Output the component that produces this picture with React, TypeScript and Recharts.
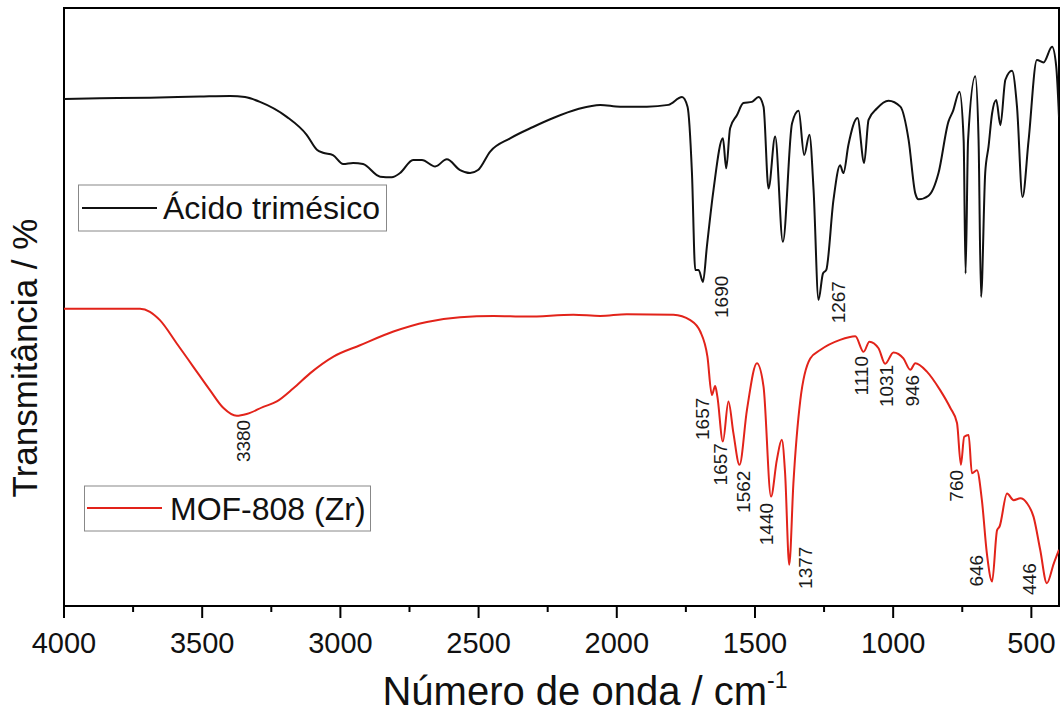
import { ComposedChart, Line, XAxis, YAxis, ReferenceArea, ReferenceDot } from "recharts";

const FONT = "'Liberation Sans', Arial, Helvetica, sans-serif";

const xMajorTicks = [4000, 3500, 3000, 2500, 2000, 1500, 1000, 500];
const xMinorTicks = [3750, 3250, 2750, 2250, 1750, 1250, 750];

// Ácido trimésico (black)
const acidWn = [
  4000, 3870, 3689, 3508, 3399, 3345, 3291, 3194, 3122, 3085, 3063, 3027, 2990, 2954, 2918, 2856,
  2814, 2784, 2737, 2705, 2657, 2615, 2567, 2531, 2502, 2458, 2386, 2303, 2230, 2140, 2060, 1988,
  1891, 1813, 1764, 1744, 1728, 1716, 1704, 1688, 1674, 1650, 1616, 1604, 1590, 1565, 1542, 1511,
  1487, 1469, 1451, 1427, 1399, 1366, 1342, 1322, 1303, 1288, 1270, 1254, 1242, 1216, 1192, 1180,
  1162, 1129, 1105, 1089, 1059, 1017, 974, 944, 920, 908, 872, 836, 800, 784, 760, 745, 738, 729,
  703, 691, 682, 667, 655, 642, 627, 612, 594, 570, 552, 532, 510, 480, 456, 425, 410, 400,
];
const acidT = [
  84.8, 84.9, 85.0, 85.2, 85.3, 85.1, 84.3, 81.8, 78.8, 76.3, 75.8, 75.4, 73.9, 74.1, 73.9, 71.8,
  71.7, 72.4, 74.6, 74.6, 73.5, 74.7, 72.9, 72.4, 72.9, 76.0, 78.2, 80.1, 81.6, 83.1, 83.8, 83.5,
  83.5, 83.8, 85.1, 83.5, 72.4, 56.2, 56.2, 54.2, 60.1, 69.6, 78.2, 73.2, 79.9, 82.1, 84.1, 84.3,
  85.1, 83.5, 69.8, 78.5, 60.9, 80.7, 82.8, 75.4, 78.8, 69.6, 51.2, 55.6, 56.2, 67.9, 73.7, 72.4,
  77.1, 81.6, 74.1, 81.3, 83.2, 84.5, 83.5, 77.9, 69.0, 68.0, 68.6, 72.4, 81.0, 82.7, 86.0, 77.9, 55.6, 77.9,
  88.6, 77.9, 51.7, 72.4, 76.8, 82.4, 84.6, 80.4, 88.0, 89.5, 83.5, 68.4, 77.9, 91.3, 90.9, 93.5, 90.2, 81.8,
];

// MOF-808 (Zr) (red)
const mofWn = [
  4000, 3725, 3689, 3653, 3592, 3532, 3472, 3423, 3375, 3339, 3279, 3230, 3170, 3110, 3025, 2929,
  2808, 2687, 2567, 2446, 2325, 2157, 2060, 1964, 1795, 1734, 1698, 1672, 1656, 1644, 1636, 1616,
  1596, 1578, 1556, 1529, 1493, 1469, 1442, 1421, 1403, 1391, 1376, 1361, 1336, 1300, 1264, 1192,
  1137, 1107, 1086, 1053, 1029, 999, 963, 938, 920, 878, 830, 793, 769, 755, 743, 727, 715, 697,
  679, 661, 642, 624, 615, 588, 564, 540, 516, 492, 468, 444, 419, 400,
];
const mofT = [
  49.7, 49.7, 49.2, 47.8, 43.9, 40.0, 36.1, 33.1, 31.8, 32.1, 33.3, 34.2, 36.4, 38.9, 41.7, 43.6,
  45.9, 47.5, 48.3, 48.5, 48.4, 48.7, 48.5, 48.8, 48.7, 47.8, 45.9, 41.7, 35.3, 36.8, 35.0, 27.5,
  34.2, 28.9, 23.6, 32.8, 40.6, 36.7, 18.3, 24.4, 27.8, 22.2, 6.9, 20.5, 34.4, 41.4, 42.8, 44.5,
  45.1, 42.5, 44.2, 43.1, 40.5, 42.4, 41.4, 39.5, 40.6, 39.2, 36.1, 33.1, 30.6, 23.6, 28.3, 28.6, 22.2, 22.7,
  17.7, 8.8, 4.1, 12.7, 13.3, 18.8, 17.7, 18.0, 17.2, 14.9, 9.4, 3.8, 7.1, 9.4,
];

// peak annotations (text centre position)
const peakText = ["1690", "1267", "3380", "1657", "1657", "1562", "1440", "1377", "1110", "1031", "946", "760", "646", "446"];
const peakWn = [1620, 1199, 3352, 1689, 1626, 1543, 1457, 1318, 1116, 1025, 929, 772, 699, 508];
const peakT = [51.7, 50.8, 27.6, 31.3, 23.7, 19.1, 13.7, 6.4, 38.5, 36.8, 36.0, 20.1, 5.9, 4.5];

const acidData = acidWn.map((w, i) => ({ w, t: acidT[i] }));
const mofData = mofWn.map((w, i) => ({ w, t: mofT[i] }));
const allTicks = [...xMajorTicks, ...xMinorTicks].sort((a, b) => b - a);

const PeakLabel = (text: string) => (props: any) => {
  const { cx, cy } = props;
  return (
    <text
      x={cx}
      y={cy}
      transform={`rotate(-90 ${cx} ${cy})`}
      textAnchor="middle"
      dominantBaseline="central"
      fontSize={19}
      fontFamily={FONT}
      fill="#1a1a1a"
    >
      {text}
    </text>
  );
};

// major ticks get a label and a long mark, minor ones only a short mark
const AxisTick = (props: any) => {
  const { x, y, payload } = props;
  const major = xMajorTicks.includes(payload.value);
  return (
    <g>
      <line x1={x} x2={x} y1={y} y2={y + (major ? 12 : 6)} stroke="#000" strokeWidth={2} />
      {major && (
        <text x={x} y={y + 47} textAnchor="middle" fontSize={29} fontFamily={FONT} fill="#111">
          {payload.value}
        </text>
      )}
    </g>
  );
};

export default function App() {
  return (
    <div style={{ position: "absolute", left: 0, top: 0, width: 1062, height: 715, background: "#fff" }}>
      <ComposedChart width={1062} height={715} margin={{ top: 8, right: 3, left: 64, bottom: 0 }}>
        <XAxis
          type="number"
          dataKey="w"
          domain={[400, 4000]}
          reversed
          allowDataOverflow
          ticks={allTicks}
          interval={0}
          tickSize={0}
          tickMargin={0}
          tickLine={false}
          axisLine={{ stroke: "#000", strokeWidth: 2 }}
          tick={<AxisTick />}
          height={109}
        />
        <YAxis type="number" domain={[0, 100]} hide allowDataOverflow />
        <ReferenceArea x1={4000} x2={400} y1={0} y2={100} fill="none" stroke="#000" strokeWidth={2} />
        <Line
          data={acidData}
          dataKey="t"
          type="monotone"
          stroke="#111"
          strokeWidth={2}
          dot={false}
          isAnimationActive={false}
        />
        <Line
          data={mofData}
          dataKey="t"
          type="monotone"
          stroke="#e2231a"
          strokeWidth={2}
          dot={false}
          isAnimationActive={false}
        />
        {peakText.map((txt, i) => (
          <ReferenceDot key={i} x={peakWn[i]} y={peakT[i]} r={0} shape={PeakLabel(txt)} />
        ))}
      </ComposedChart>
      <svg
        width={1062}
        height={715}
        style={{ position: "absolute", left: 0, top: 0, pointerEvents: "none" }}
        fontFamily={FONT}
      >
        <text x={37} y={358} transform="rotate(-90 37 358)" textAnchor="middle" fontSize={35} fill="#111">
          Transmitância / %
        </text>
        <text x={585} y={705} textAnchor="middle" fontSize={40} fill="#111">
          Número de onda / cm
          <tspan fontSize={23} dy={-17}>-1</tspan>
        </text>
        <rect x={78.5} y={185} width={308} height={46} fill="#fff" stroke="#888" strokeWidth={1} />
        <line x1={82} x2={157} y1={208} y2={208} stroke="#111" strokeWidth={2} />
        <text x={163} y={219} fontSize={32} fill="#111">Ácido trimésico</text>
        <rect x={84.5} y={486} width={286} height={45} fill="#fff" stroke="#888" strokeWidth={1} />
        <line x1={87} x2={162} y1={508} y2={508} stroke="#e2231a" strokeWidth={2} />
        <text x={170} y={520} fontSize={32} fill="#111">MOF-808 (Zr)</text>
      </svg>
    </div>
  );
}
